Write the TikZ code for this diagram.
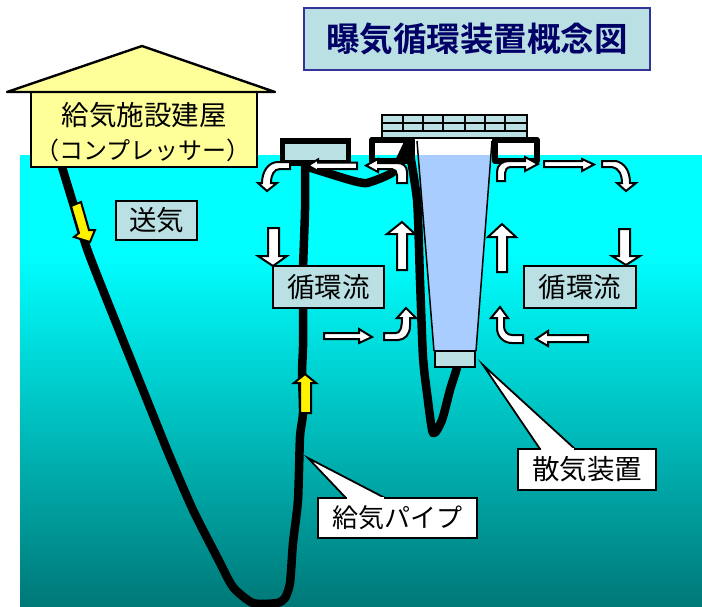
\documentclass[tikz,border=0pt]{standalone}
\usepackage{fontspec}
\setmainfont{Noto Sans CJK JP}
\newfontfamily\titlefont[BoldFont={Noto Sans CJK JP Bold}]{Noto Sans CJK JP}
\usetikzlibrary{shadings}
\definecolor{panel}{RGB}{187,224,227}
\definecolor{house}{RGB}{255,255,153}
\definecolor{navyline}{RGB}{51,51,153}
\definecolor{navytext}{RGB}{0,0,102}
\definecolor{tank}{RGB}{170,205,255}
\definecolor{watertop}{RGB}{0,255,255}
\definecolor{waterlow}{RGB}{0,120,120}
\pgfdeclareverticalshading{seawater}{100bp}{
  color(0bp)=(waterlow); color(25bp)=(waterlow);
  color(64bp)=(watertop); color(75bp)=(watertop); color(100bp)=(watertop)}
\pgfdeclarelayer{under}
\pgfsetlayers{under,main}
\tikzset{
  label box/.style={draw=black,line width=2.4pt,fill=panel,inner sep=0pt,font=\fontsize{27.5}{27.5}\selectfont},
  callout box/.style={label box,fill=white},
  pointer/.style={draw=black,line width=1.8pt,fill=white,line join=miter},
  flow/.style={draw=black,line width=2pt,fill=white,line join=miter},
  feed/.style={flow,fill=yellow},
  pipe/.style={draw=black,line width=8.5pt,line cap=round,line join=round},
  frame/.style={draw=black,line width=6pt,line join=round},
  deck/.style={draw=black,line width=1.3pt}
}
\begin{document}
\begin{tikzpicture}[x=1pt,y=-1pt]
\useasboundingbox (0,0) rectangle (702,606);
% sea and the circulation tank
\begin{pgfonlayer}{under}
  \shade[shading=seawater] (20,155) rectangle (702,606);
  \fill[white] (417,141) -- (492,141) -- (491,155) -- (418,155) -- cycle;
  \fill[tank] (418,155) -- (491,155) -- (476,351) -- (434,351) -- cycle;
  \draw[black,line width=1.5pt] (417,141) -- (434,351) (492,141) -- (476,351);
  % float deck
  \fill[panel] (382,115) rectangle (527,138);
  \foreach \yy in {115,123,131} \draw[deck] (382,\yy) -- (527,\yy);
  \foreach \xx in {382,403,423,443,465,485,505,527} \draw[deck] (\xx,114) -- (\xx,131);
  \draw[deck] (382,131) -- (382,138) (527,131) -- (527,138) (382,138) -- (527,138);
  \draw[frame] (372,139.5) rectangle (412,161);
  \draw[frame] (495,139.5) rectangle (536.5,161);
\end{pgfonlayer}
% buildings, equipment and labels
\node[draw=black,line width=2.4pt,fill=house,inner sep=0pt,minimum width=226pt,minimum height=75pt] (bldg) at (144,129.5) {};
\draw[draw=black,line width=2.4pt,fill=house,line join=round] (7,92) -- (142,46) -- (275,92) -- cycle;
\node[font=\fontsize{27.5}{27.5}\selectfont] (bldgA) at (144,115) {給気施設建屋};
\node[font=\fontsize{24}{24}\selectfont] (bldgB) at (143,150) {（コンプレッサー）};
\node[draw=navyline,line width=2pt,fill=panel,inner sep=0pt,minimum width=346pt,minimum height=62pt,
      text=navytext,font=\titlefont\bfseries\fontsize{33.5}{33.5}\selectfont] (title) at (477,39) {曝気循環装置概念図};
\node[label box,minimum width=81pt,minimum height=39pt] (send) at (156.5,220.5) {送気};
\node[label box,minimum width=111pt,minimum height=42pt] (loopL) at (328.5,287) {循環流};
\node[label box,minimum width=112pt,minimum height=42pt] (loopR) at (580,287) {循環流};
\node[draw=black,line width=5.5pt,fill=panel,inner sep=0pt,minimum width=66pt,minimum height=22pt] (float) at (315.5,152) {};
\node[draw=black,line width=2pt,fill=panel,inner sep=0pt,minimum width=40pt,minimum height=16pt] (diff) at (455,359) {};
% air pipes, running behind the boxes
\coordinate (pipeStart) at (62,167);
\coordinate (pipeMid) at (305,158);
\coordinate (deckHub) at (408,143);
\coordinate (diffFoot) at (457,368);
\begin{pgfonlayer}{under}
  \draw[pipe] plot[smooth,tension=.4] coordinates {(pipeStart) (73,203) (90,257) (147,400) (170,457) (193,510) (217,557) (233,587) (253,603) (277,603) (285,598) (290,583) (293,543) (298,500) (300,437) (303,413) (302,373) (303,347) (303,308) (303,270) (305,210) (pipeMid)};
  \draw[pipe] plot[smooth,tension=.3] coordinates {(308,167) (350,180) (367,183) (393,172) (deckHub)};
  \draw[pipe] plot[smooth,tension=.4] coordinates {(deckHub) (417,200) (420,280) (423,357) (427,393) (433,433) (442,420) (450,390) (diffFoot)};
\end{pgfonlayer}
% callouts
\draw[pointer] (308,458) -- (346,498) -- (385,498) -- cycle;
\node[callout box,minimum width=159pt,minimum height=40pt,font=\fontsize{26}{26}\selectfont] (pipeLabel) at (397.5,518) {給気パイプ};
\fill[white] (347,497) rectangle (384,499.5);
\draw[pointer] (483,365) -- (540,449) -- (575,449) -- cycle;
\node[callout box,minimum width=138pt,minimum height=41pt] (diffLabel) at (587,469.5) {散気装置};
\fill[white] (541,448) rectangle (574,450.5);
% circulation arrows
\draw[flow] (290,162) -- (278,162) .. controls (268,162) and (262,172) .. (262,183) -- (258,183) -- (267,191) -- (277,183) -- (271,183) .. controls (271,175) and (274,169) .. (280,169) -- (290,169) -- cycle;
\draw[flow] (357,162.5) -- (318,162.5) -- (318,159.5) -- (308,165.5) -- (318,171) -- (318,169) -- (357,169) -- cycle;
\draw[flow] (407,183) -- (407,172) .. controls (407,166) and (403,163) .. (397,163) -- (378,163) -- (378,159) -- (366,165.5) -- (378,172) -- (378,169) -- (392,169) .. controls (395,169) and (397,172) .. (397,175) -- (397,183) -- cycle;
\draw[flow] (397,270) -- (397,234) -- (387,234) -- (402,222) -- (415,234) -- (407,234) -- (407,270) -- cycle;
\draw[flow] (497,272) -- (497,237) -- (488,237) -- (502,224) -- (516,237) -- (507,237) -- (507,272) -- cycle;
\draw[flow] (268,228) -- (279,228) -- (279,256) -- (287,256) -- (273,266) -- (258,256) -- (268,256) -- cycle;
\draw[flow] (497,181) -- (497,172) .. controls (497,165) and (502,161) .. (509,161) -- (525,161) -- (525,157) -- (538,164) -- (525,171) -- (525,167) -- (511,167) .. controls (507,167) and (505,170) .. (505,173) -- (505,181) -- cycle;
\draw[flow] (544,161) -- (582,161) -- (582,159) -- (594,164.5) -- (582,171) -- (582,167) -- (544,167) -- cycle;
\draw[flow] (602,161) -- (616,161) .. controls (624,163) and (630,170) .. (630,183) -- (636,183) -- (626,191) -- (617,183) -- (622,183) .. controls (622,175) and (619,168) .. (612,167) -- (602,167) -- cycle;
\draw[flow] (619,229) -- (630,229) -- (630,256) -- (640,256) -- (626,265) -- (612,256) -- (619,256) -- cycle;
\draw[flow] (588,335) -- (548,335) -- (548,331) -- (536,339) -- (548,346) -- (548,342) -- (588,342) -- cycle;
\draw[flow] (523,335) -- (512,335) .. controls (507,335) and (504,331) .. (504,326) -- (504,318) -- (508,318) -- (500,307) -- (491,318) -- (497,318) -- (497,328) .. controls (497,337) and (504,343) .. (512,343) -- (523,343) -- cycle;
\draw[flow] (324,333) -- (359,333) -- (359,329) -- (372,337) -- (359,343) -- (359,339) -- (324,339) -- cycle;
\draw[flow] (384,333) -- (396,333) .. controls (400,333) and (402,328) .. (402,318) -- (397,318) -- (406,308) -- (416,318) -- (410,318) -- (410,326) .. controls (410,334) and (405,340) .. (398,340) -- (384,340) -- cycle;
% air feed markers
\draw[feed] (300,413) -- (300,383) -- (294,383) -- (305,374) -- (316,383) -- (311,383) -- (311,413) -- cycle;
\draw[feed] (71,206) -- (81,202) -- (89,230) -- (95,230) -- (90,242) -- (74,237) -- (79,233) -- cycle;
\end{tikzpicture}
\end{document}
